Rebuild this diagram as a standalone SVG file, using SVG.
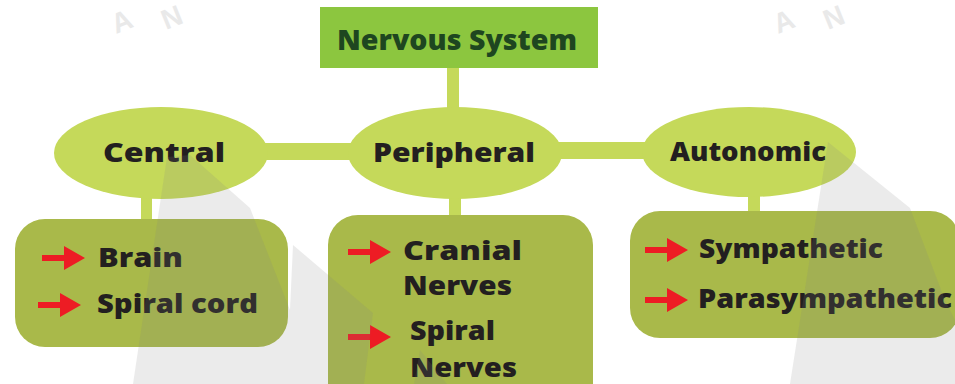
<svg xmlns="http://www.w3.org/2000/svg" width="955" height="384" viewBox="0 0 955 384">
<style>
.conn{fill:#c5d95a}
.ell{fill:#c5d95a}
.box{fill:#a9b94a}
.lbl{font-family:"Open Sans","Liberation Sans",sans-serif;font-weight:800;fill:#231f20}
.title{font-family:"Open Sans","Liberation Sans",sans-serif;font-weight:800;fill:#1e4620}
.wm{fill:#848484;fill-opacity:0.16}
.wmt{font-family:"Liberation Sans",sans-serif;font-weight:700;font-size:28px;fill:#e9e9e9}
</style>
<defs>
<path id="arr" d="M0,-3 H22 V-12 L43,0 L22,12 V3 H0 Z" fill="#ed1c24"/>
</defs>
<rect width="955" height="384" fill="#ffffff"/>
<g id="watermark-text">
<text class="wmt" transform="translate(116,34) rotate(-22)">A</text>
<text class="wmt" transform="translate(166,30) rotate(-22)">N</text>
<text class="wmt" transform="translate(778,34) rotate(-22)">A</text>
<text class="wmt" transform="translate(828,30) rotate(-22)">N</text>
</g>
<g id="connectors">
<rect class="conn" x="447" y="66" width="12" height="48"/>
<rect class="conn" x="260" y="143" width="96" height="17"/>
<rect class="conn" x="555" y="142" width="96" height="17"/>
<rect class="conn" x="141" y="192" width="11" height="30"/>
<rect class="conn" x="449" y="192" width="12" height="26"/>
<rect class="conn" x="748" y="192" width="12" height="22"/>
</g>
<g id="node-title">
<rect x="320" y="7" width="278" height="61" fill="#8cc63f"/>
<text class="title" x="337" y="50" font-size="28" textLength="240" lengthAdjust="spacingAndGlyphs">Nervous System</text>
</g>
<g id="node-central">
<ellipse class="ell" cx="161" cy="153" rx="107" ry="46"/>
<text class="lbl" x="103" y="162" font-size="27" textLength="122" lengthAdjust="spacingAndGlyphs">Central</text>
</g>
<g id="node-peripheral">
<ellipse class="ell" cx="455" cy="153" rx="107" ry="46"/>
<text class="lbl" x="373" y="162" font-size="27" textLength="162" lengthAdjust="spacingAndGlyphs">Peripheral</text>
</g>
<g id="node-autonomic">
<ellipse class="ell" cx="749" cy="152" rx="107" ry="45"/>
<text class="lbl" x="670" y="161" font-size="27" textLength="156" lengthAdjust="spacingAndGlyphs">Autonomic</text>
</g>
<g id="node-central-list">
<rect class="box" x="15" y="219" width="273" height="128" rx="30"/>
<use href="#arr" x="42" y="258"/>
<use href="#arr" x="38" y="305"/>
<text class="lbl" x="98" y="267" font-size="26" textLength="85" lengthAdjust="spacingAndGlyphs">Brain</text>
<text class="lbl" x="97" y="313" font-size="26" textLength="161" lengthAdjust="spacingAndGlyphs">Spiral cord</text>
</g>
<g id="node-peripheral-list">
<rect class="box" x="328" y="215" width="265" height="200" rx="30"/>
<use href="#arr" x="348" y="252"/>
<use href="#arr" x="348" y="337"/>
<text class="lbl" x="403" y="260" font-size="26" textLength="119" lengthAdjust="spacingAndGlyphs">Cranial</text>
<text class="lbl" x="403" y="295" font-size="26" textLength="109" lengthAdjust="spacingAndGlyphs">Nerves</text>
<text class="lbl" x="410" y="340" font-size="26" textLength="85" lengthAdjust="spacingAndGlyphs">Spiral</text>
<text class="lbl" x="410" y="377" font-size="26" textLength="107" lengthAdjust="spacingAndGlyphs">Nerves</text>
</g>
<g id="node-autonomic-list">
<rect class="box" x="630" y="211" width="330" height="127" rx="30"/>
<use href="#arr" x="645" y="250"/>
<use href="#arr" x="645" y="300"/>
<text class="lbl" x="699" y="258" font-size="26" textLength="184" lengthAdjust="spacingAndGlyphs">Sympathetic</text>
<text class="lbl" x="698" y="308" font-size="26" textLength="254" lengthAdjust="spacingAndGlyphs">Parasympathetic</text>
</g>
<g id="watermark-shapes">
<path class="wm" d="M167,157 L190,155 L250,208 L290,310 L293,245 L373,313 L364,384 L133,384 Z"/>
<path class="wm" d="M420,350 L447,384 L414,384 Z"/>
<path class="wm" d="M828,142 L910,208 L945,300 L955,320 L955,384 L790,384 Z"/>
</g>
</svg>
